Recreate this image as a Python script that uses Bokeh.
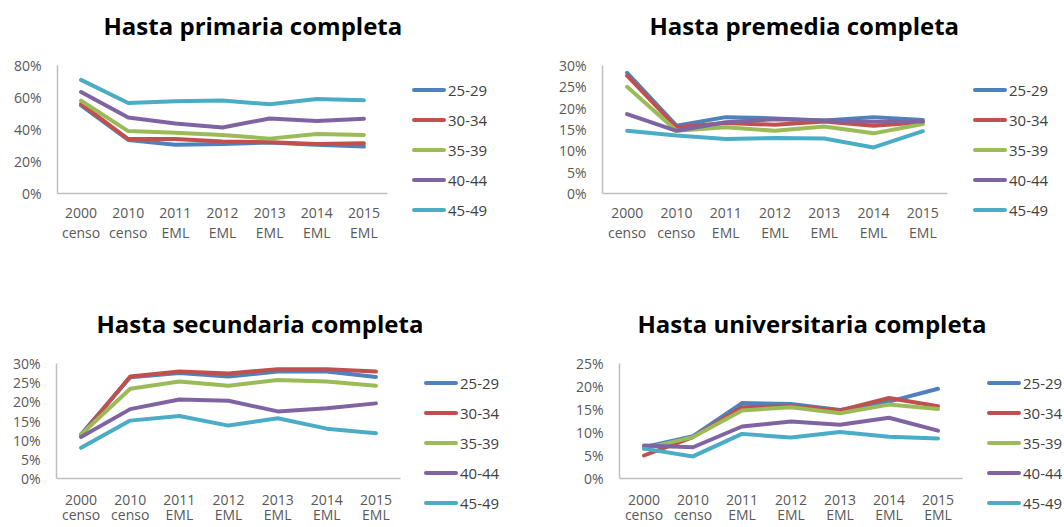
from bokeh.plotting import figure
from bokeh.models import (Range1d, FixedTicker, LinearAxis, NumeralTickFormatter,
                          Title, Div)
from bokeh.layouts import row, column
from bokeh.embed import file_html
from bokeh.resources import INLINE

# ---------------- data ----------------
years = ["2000", "2010", "2011", "2012", "2013", "2014", "2015"]
sources = ["censo", "censo", "EML", "EML", "EML", "EML", "EML"]
age_groups = ["25-29", "30-34", "35-39", "40-44", "45-49"]

primaria_25_29 = [0.550, 0.335, 0.305, 0.310, 0.318, 0.305, 0.293]
primaria_30_34 = [0.560, 0.340, 0.340, 0.325, 0.320, 0.310, 0.314]
primaria_35_39 = [0.580, 0.390, 0.380, 0.366, 0.343, 0.372, 0.366]
primaria_40_44 = [0.634, 0.475, 0.438, 0.413, 0.469, 0.453, 0.467]
primaria_45_49 = [0.710, 0.566, 0.577, 0.581, 0.558, 0.591, 0.583]

premedia_25_29 = [0.283, 0.159, 0.179, 0.176, 0.171, 0.179, 0.172]
premedia_30_34 = [0.276, 0.155, 0.165, 0.161, 0.169, 0.159, 0.167]
premedia_35_39 = [0.250, 0.147, 0.155, 0.147, 0.157, 0.141, 0.163]
premedia_40_44 = [0.186, 0.147, 0.167, 0.174, 0.171, 0.168, 0.169]
premedia_45_49 = [0.147, 0.136, 0.128, 0.130, 0.129, 0.108, 0.146]

secundaria_25_29 = [0.115, 0.264, 0.275, 0.266, 0.279, 0.279, 0.265]
secundaria_30_34 = [0.112, 0.266, 0.279, 0.274, 0.285, 0.285, 0.279]
secundaria_35_39 = [0.115, 0.234, 0.253, 0.242, 0.257, 0.253, 0.242]
secundaria_40_44 = [0.108, 0.181, 0.206, 0.203, 0.175, 0.183, 0.196]
secundaria_45_49 = [0.080, 0.151, 0.163, 0.138, 0.157, 0.130, 0.118]

universitaria_25_29 = [0.068, 0.092, 0.164, 0.162, 0.149, 0.167, 0.195]
universitaria_30_34 = [0.050, 0.090, 0.155, 0.157, 0.148, 0.175, 0.157]
universitaria_35_39 = [0.065, 0.090, 0.148, 0.155, 0.142, 0.161, 0.151]
universitaria_40_44 = [0.072, 0.068, 0.113, 0.124, 0.117, 0.132, 0.104]
universitaria_45_49 = [0.065, 0.048, 0.097, 0.089, 0.101, 0.091, 0.087]

colors = ["#4F81BD", "#C0504D", "#9BBB59", "#8064A2", "#4BACC6"]

FONT = "Open Sans"
LABEL_COLOR = "#595959"
AXIS_COLOR = "#BFBFBF"


def style_xaxis(ax, standoff):
    ax.major_tick_line_color = None
    ax.minor_tick_line_color = None
    ax.major_tick_out = 0
    ax.major_tick_in = 0
    ax.major_label_standoff = standoff
    ax.major_label_text_font = FONT
    ax.major_label_text_font_size = "14px"
    ax.major_label_text_color = LABEL_COLOR


def make_panel(title, series, y_max, y_step, width, height, borders,
               title_offset, s1, s2):
    left, right, top, bottom = borders
    idx = list(range(len(years)))
    p = figure(width=width, height=height,
               min_border_left=left, min_border_right=right,
               min_border_top=top, min_border_bottom=bottom,
               x_range=Range1d(-0.5, len(years) - 0.5),
               y_range=Range1d(0, y_max),
               output_backend="svg", toolbar_location=None)
    p.outline_line_color = None
    p.xgrid.visible = False
    p.ygrid.visible = False
    p.background_fill_color = "white"
    p.border_fill_color = "white"

    # x axis: years (first line)
    xa = p.xaxis[0]
    xa.ticker = FixedTicker(ticks=idx)
    xa.major_label_overrides = {i: y for i, y in zip(idx, years)}
    xa.axis_line_color = AXIS_COLOR
    xa.axis_line_width = 1.5
    style_xaxis(xa, s1)

    # x axis: source (second line)
    xa2 = LinearAxis(ticker=FixedTicker(ticks=idx),
                     major_label_overrides={i: s for i, s in zip(idx, sources)})
    xa2.axis_line_color = None
    style_xaxis(xa2, s2)
    p.add_layout(xa2, "below")

    ya = p.yaxis[0]
    n = int(round(y_max / y_step))
    ya.ticker = FixedTicker(ticks=[round(k * y_step, 4) for k in range(n + 1)])
    ya.formatter = NumeralTickFormatter(format="0%")
    ya.axis_line_color = AXIS_COLOR
    ya.axis_line_width = 1.5
    ya.major_tick_line_color = None
    ya.minor_tick_line_color = None
    ya.major_tick_out = 0
    ya.major_tick_in = 0
    ya.major_label_standoff = 16
    ya.major_label_text_font = FONT
    ya.major_label_text_font_size = "14px"
    ya.major_label_text_color = LABEL_COLOR

    for vals, c in zip(series, colors):
        p.line(idx, vals, line_color=c, line_width=4, line_join="round",
               line_cap="round")

    # thin spacer below the title so the title sits higher above the frame
    p.add_layout(Title(text=" ", text_font_size="1px", standoff=14), "above")
    p.add_layout(Title(text=title, align="left", offset=title_offset,
                       vertical_align="top", standoff=10,
                       text_font=FONT, text_font_style="bold",
                       text_font_size="24px", text_color="black"), "above")
    return p


def make_legend(width, height, left, top):
    rows_html = "".join(
        '<div style="height:30px;display:flex;align-items:center;'
        'white-space:nowrap;">'
        f'<span style="display:inline-block;width:34px;height:4px;'
        f'border-radius:2px;background:{c};margin-right:2px;"></span>'
        f'<span>{name}</span></div>'
        for name, c in zip(age_groups, colors))
    html = (f'<div style="position:relative;width:{width}px;height:{height}px;'
            f'font-family:\'{FONT}\';font-size:15px;color:#404040;'
            f'line-height:1;">'
            f'<div style="position:absolute;left:{left}px;top:{top}px;">'
            f'{rows_html}</div></div>')
    return Div(text=html, width=width, height=height, margin=0)


# borders: (left, right, top, bottom)
pA = make_panel("Hasta primaria completa",
                [primaria_25_29, primaria_30_34, primaria_35_39,
                 primaria_40_44, primaria_45_49],
                0.8, 0.2, 410, 298, (57, 23, 65, 104), 46, 14, 2)
lA = make_legend(110, 298, 2, 75)

pB = make_panel("Hasta premedia completa",
                [premedia_25_29, premedia_30_34, premedia_35_39,
                 premedia_40_44, premedia_45_49],
                0.3, 0.05, 446, 298, (82, 19, 65, 105), 47, 14, 2)
lB = make_legend(98, 298, 7, 75)

pC = make_panel("Hasta secundaria completa",
                [secundaria_25_29, secundaria_30_34, secundaria_35_39,
                 secundaria_40_44, secundaria_45_49],
                0.3, 0.05, 424, 229, (56, 24, 65, 49), 40, 16, -3)
lC = make_legend(96, 229, 0, 70)

pD = make_panel("Hasta universitaria completa",
                [universitaria_25_29, universitaria_30_34, universitaria_35_39,
                 universitaria_40_44, universitaria_45_49],
                0.25, 0.05, 466, 229, (99, 24, 65, 49), 18, 16, -3)
lD = make_legend(78, 229, 1, 70)

layout = column(row(pA, lA, pB, lB, spacing=0),
                row(pC, lC, pD, lD, spacing=0), spacing=0)

open("out.html", "w").write(file_html(layout, INLINE))
